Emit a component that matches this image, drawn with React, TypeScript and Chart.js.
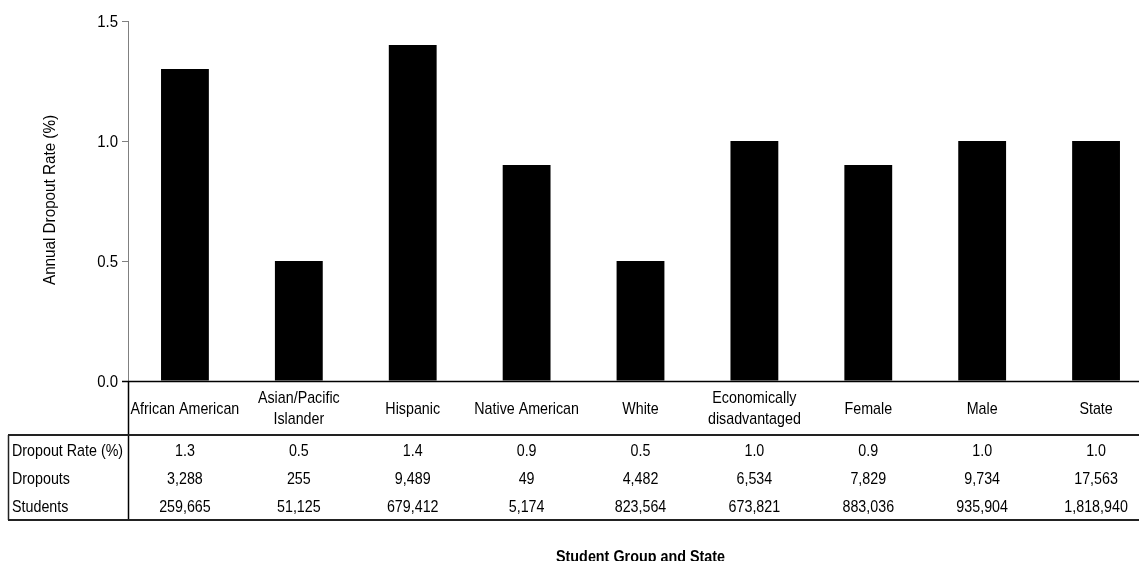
import React, { useEffect, useRef } from "react";
import { Chart, registerables } from "chart.js";

Chart.register(...registerables);

const categories: string[][] = [
  ["African American"],
  ["Asian/Pacific", "Islander"],
  ["Hispanic"],
  ["Native American"],
  ["White"],
  ["Economically", "disadvantaged"],
  ["Female"],
  ["Male"],
  ["State"],
];
const dropoutRates: number[] = [1.3, 0.5, 1.4, 0.9, 0.5, 1.0, 0.9, 1.0, 1.0];
const rowLabels: string[] = ["Dropout Rate (%)", "Dropouts", "Students"];
const rateRow: string[] = ["1.3", "0.5", "1.4", "0.9", "0.5", "1.0", "0.9", "1.0", "1.0"];
const dropoutsRow: string[] = ["3,288", "255", "9,489", "49", "4,482", "6,534", "7,829", "9,734", "17,563"];
const studentsRow: string[] = ["259,665", "51,125", "679,412", "5,174", "823,564", "673,821", "883,036", "935,904", "1,818,940"];
const yTicks: number[] = [0, 0.5, 1.0, 1.5];
const yTitle = "Annual Dropout Rate (%)";
const xTitle = "Student Group and State";

const FONT = '"Liberation Sans", Arial, sans-serif';
const SX = 0.84;

function drawText(
  ctx: CanvasRenderingContext2D,
  text: string,
  x: number,
  y: number,
  align: CanvasTextAlign,
  sx: number
) {
  ctx.save();
  ctx.translate(x, y);
  ctx.scale(sx, 1);
  ctx.textAlign = align;
  ctx.fillText(text, 0, 0);
  ctx.restore();
}

const tablePlugin = {
  id: "tablePlugin",
  afterDraw(chart: any) {
    const ctx = chart.ctx as CanvasRenderingContext2D;
    const xs = chart.scales.x;
    const ys = chart.scales.y;
    const area = chart.chartArea;
    const W = chart.width;
    const axisY = area.bottom;
    const headerBottom = 435;
    const tableBottom = 520;
    ctx.save();
    // x axis line
    ctx.strokeStyle = "#000";
    ctx.lineWidth = 1.5;
    ctx.beginPath();
    ctx.moveTo(122, axisY + 0.5);
    ctx.lineTo(W, axisY + 0.5);
    ctx.stroke();
    // vertical separator below axis
    ctx.beginPath();
    ctx.moveTo(area.left + 0.5, axisY);
    ctx.lineTo(area.left + 0.5, tableBottom);
    ctx.stroke();
    // header bottom line
    ctx.lineWidth = 2;
    ctx.strokeStyle = "#222";
    ctx.beginPath();
    ctx.moveTo(8, headerBottom);
    ctx.lineTo(W, headerBottom);
    ctx.stroke();
    // table bottom
    ctx.beginPath();
    ctx.moveTo(8, tableBottom);
    ctx.lineTo(W, tableBottom);
    ctx.stroke();
    // left border
    ctx.lineWidth = 1.5;
    ctx.beginPath();
    ctx.moveTo(8.5, headerBottom);
    ctx.lineTo(8.5, tableBottom);
    ctx.stroke();

    ctx.fillStyle = "#000";
    ctx.font = `17px ${FONT}`;
    ctx.textBaseline = "middle";

    // y tick labels
    yTicks.forEach((v) => {
      drawText(ctx, v.toFixed(1), 118, ys.getPixelForValue(v) + 1, "right", 0.88);
    });

    // category labels
    const headerMid = 409;
    const lh = 21;
    categories.forEach((lines, i) => {
      const cx = xs.getPixelForValue(i);
      const y0 = headerMid - ((lines.length - 1) * lh) / 2;
      lines.forEach((t, j) => drawText(ctx, t, cx, y0 + j * lh, "center", SX));
    });
    // rows
    const rows = [rateRow, dropoutsRow, studentsRow];
    const rowY = [451, 479, 507];
    rows.forEach((row, r) => {
      row.forEach((t, i) => {
        drawText(ctx, t, xs.getPixelForValue(i), rowY[r], "center", SX);
      });
    });
    rowLabels.forEach((t, r) => drawText(ctx, t, 12, rowY[r], "left", SX));

    // x title (centred on the plot area)
    ctx.font = `bold 17px ${FONT}`;
    const xw = ctx.measureText(xTitle).width;
    drawText(ctx, xTitle, (area.left + area.right) / 2, 557, "center", 169 / xw);

    // y title
    ctx.font = `17px ${FONT}`;
    const yw = ctx.measureText(yTitle).width;
    ctx.translate(50, 200);
    ctx.rotate(-Math.PI / 2);
    drawText(ctx, yTitle, 0, 0, "center", 170 / yw);
    ctx.restore();
  },
};

export default function App() {
  const ref = useRef<HTMLCanvasElement>(null);
  useEffect(() => {
    if (!ref.current) return;
    const chart = new Chart(ref.current, {
      type: "bar",
      data: {
        labels: categories.map((c) => c.join(" ")),
        datasets: [
          {
            data: dropoutRates,
            backgroundColor: "#000",
            borderWidth: 0,
            barPercentage: 0.42,
            categoryPercentage: 1,
          },
        ],
      },
      options: {
        animation: false,
        responsive: false,
        maintainAspectRatio: false,
        layout: { padding: { top: 21, bottom: 180, left: 0, right: 0 } },
        plugins: { legend: { display: false }, tooltip: { enabled: false }, title: { display: false } },
        scales: {
          x: { display: false, offset: true },
          y: {
            min: 0,
            max: 1.5,
            afterFit: (s: any) => {
              s.width = 128;
            },
            afterBuildTicks: (s: any) => {
              s.ticks = yTicks.map((v) => ({ value: v }));
            },
            ticks: {
              display: false,
            },
            grid: { drawOnChartArea: false, drawTicks: true, tickLength: 6, color: "#808080" },
            border: { color: "#808080", width: 1 },
          },
        },
      },
      plugins: [tablePlugin],
    });
    return () => chart.destroy();
  }, []);
  return (
    <div style={{ position: "absolute", left: 0, top: 0, width: 1139, height: 561, overflow: "hidden", background: "#fff" }}>
      <canvas ref={ref} width={1153} height={561} style={{ display: "block" }} />
    </div>
  );
}
